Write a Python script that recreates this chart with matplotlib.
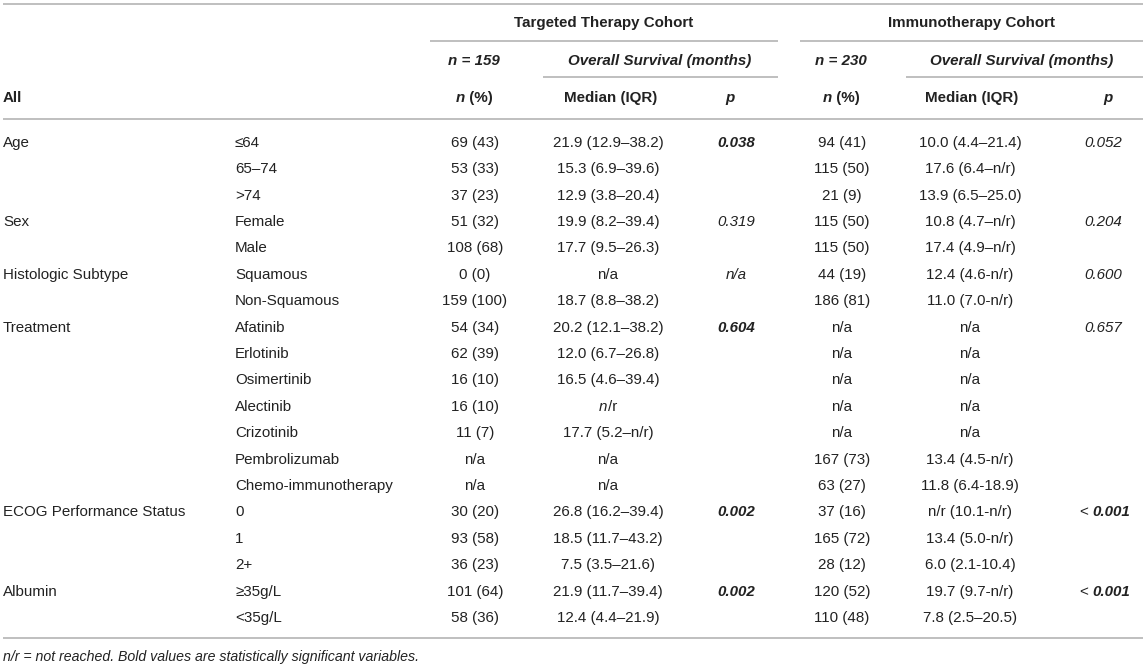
import matplotlib
matplotlib.use("Agg")
import matplotlib.pyplot as plt

plt.rcParams['font.family'] = ['Liberation Sans', 'DejaVu Sans']

# table contents
groups = ["Age", "", "", "Sex", "", "Histologic Subtype", "", "Treatment", "", "", "", "", "", "",
          "ECOG Performance Status", "", "", "Albumin", ""]
levels = ["≤64", "65–74", ">74", "Female", "Male", "Squamous", "Non-Squamous", "Afatinib", "Erlotinib",
          "Osimertinib", "Alectinib", "Crizotinib", "Pembrolizumab", "Chemo-immunotherapy",
          "0", "1", "2+", "≥35g/L", "<35g/L"]
tt_n = ["69 (43)", "53 (33)", "37 (23)", "51 (32)", "108 (68)", "0 (0)", "159 (100)", "54 (34)", "62 (39)",
        "16 (10)", "16 (10)", "11 (7)", "n/a", "n/a", "30 (20)", "93 (58)", "36 (23)", "101 (64)", "58 (36)"]
tt_os = ["21.9 (12.9–38.2)", "15.3 (6.9–39.6)", "12.9 (3.8–20.4)", "19.9 (8.2–39.4)", "17.7 (9.5–26.3)",
         "n/a", "18.7 (8.8–38.2)", "20.2 (12.1–38.2)", "12.0 (6.7–26.8)", "16.5 (4.6–39.4)", "n/r",
         "17.7 (5.2–n/r)", "n/a", "n/a", "26.8 (16.2–39.4)", "18.5 (11.7–43.2)", "7.5 (3.5–21.6)",
         "21.9 (11.7–39.4)", "12.4 (4.4–21.9)"]
tt_p = ["0.038", "", "", "0.319", "", "n/a", "", "0.604", "", "", "", "", "", "",
        "0.002", "", "", "0.002", ""]
tt_bold = [True, False, False, False, False, False, False, True, False, False, False, False, False, False,
           True, False, False, True, False]
im_n = ["94 (41)", "115 (50)", "21 (9)", "115 (50)", "115 (50)", "44 (19)", "186 (81)", "n/a", "n/a",
        "n/a", "n/a", "n/a", "167 (73)", "63 (27)", "37 (16)", "165 (72)", "28 (12)", "120 (52)", "110 (48)"]
im_os = ["10.0 (4.4–21.4)", "17.6 (6.4–n/r)", "13.9 (6.5–25.0)", "10.8 (4.7–n/r)", "17.4 (4.9–n/r)",
         "12.4 (4.6-n/r)", "11.0 (7.0-n/r)", "n/a", "n/a", "n/a", "n/a", "n/a", "13.4 (4.5-n/r)",
         "11.8 (6.4-18.9)", "n/r (10.1-n/r)", "13.4 (5.0-n/r)", "6.0 (2.1-10.4)", "19.7 (9.7-n/r)",
         "7.8 (2.5–20.5)"]
im_p = ["0.052", "", "", "0.204", "", "0.600", "", "0.657", "", "", "", "", "", "",
        "< 0.001", "", "", "< 0.001", ""]
im_bold = [False, False, False, False, False, False, False, False, False, False, False, False, False, False,
           True, False, False, True, False]

FS = 10.9
TXT = '#222222'
LINE = '#b4b4b4'

fig = plt.figure(figsize=(11.45, 6.66), dpi=100)
ax = fig.add_axes([0, 0, 1, 1])
ax.set_xlim(0, 1145)
ax.set_ylim(666, 0)
ax.axis('off')
rend = fig.canvas.get_renderer()


def put(x, y, parts, ha='center', size=FS):
    # parts: list of (text, weight, style); drawn side by side
    objs = []
    for s, w, st in parts:
        objs.append(ax.text(0, y + 4.8, s, fontsize=size, fontweight=w, fontstyle=st,
                            ha='left', va='baseline', color=TXT))
    widths = [t.get_window_extent(rend).width for t in objs]
    total = sum(widths)
    start = x - total / 2 if ha == 'center' else x
    for t, wd in zip(objs, widths):
        t.set_x(start)
        start += wd


def hline(y, x0, x1):
    ax.plot([x0, x1], [y, y], color=LINE, lw=1.2, solid_capstyle='butt')


# rules
hline(3.5, 3, 1143)
hline(41, 430, 778)
hline(41, 800, 1143)
hline(77, 543, 778)
hline(77, 906, 1143)
hline(119, 3, 1143)
hline(638, 3, 1143)

# header
put(604, 22, [("Targeted Therapy Cohort", 'bold', 'normal')])
put(971, 22, [("Immunotherapy Cohort", 'bold', 'normal')])
put(474, 60, [("n = 159", 'bold', 'italic')])
put(660, 60, [("Overall Survival (months)", 'bold', 'italic')])
put(841, 60, [("n = 230", 'bold', 'italic')])
put(1022, 60, [("Overall Survival (months)", 'bold', 'italic')])
put(3, 97, [("All", 'bold', 'normal')], ha='left')
for cx in (474, 841):
    put(cx, 97, [("n", 'bold', 'italic'), (" (%)", 'bold', 'normal')])
for cx in (611, 972):
    put(cx, 97, [("Median (IQR)", 'bold', 'normal')])
for cx in (730, 1108):
    put(cx, 97, [("p", 'bold', 'italic')])

# body
row_y0, row_dy = 142, 26.4
for i in range(len(levels)):
    y = row_y0 + i * row_dy
    if groups[i]:
        put(3, y, [(groups[i], 'normal', 'normal')], ha='left')
    put(235, y, [(levels[i], 'normal', 'normal')], ha='left')
    put(475, y, [(tt_n[i], 'normal', 'normal')])
    if tt_os[i] == "n/r":
        put(608, y, [("n", 'normal', 'italic'), ("/r", 'normal', 'normal')])
    else:
        put(608, y, [(tt_os[i], 'normal', 'normal')])
    if tt_p[i]:
        put(736, y, [(tt_p[i], 'bold' if tt_bold[i] else 'normal', 'italic')])
    put(842, y, [(im_n[i], 'normal', 'normal')])
    put(970, y, [(im_os[i], 'normal', 'normal')])
    if im_p[i]:
        if im_p[i].startswith("<"):
            put(1105, y, [("< ", 'normal', 'normal'), (im_p[i][2:], 'bold', 'italic')])
        else:
            put(1103, y, [(im_p[i], 'bold' if im_bold[i] else 'normal', 'italic')])

put(3, 656, [("n/r = not reached. Bold values are statistically significant variables.", 'normal', 'italic')],
    ha='left', size=10.2)

fig.savefig("out.png", dpi=100)
